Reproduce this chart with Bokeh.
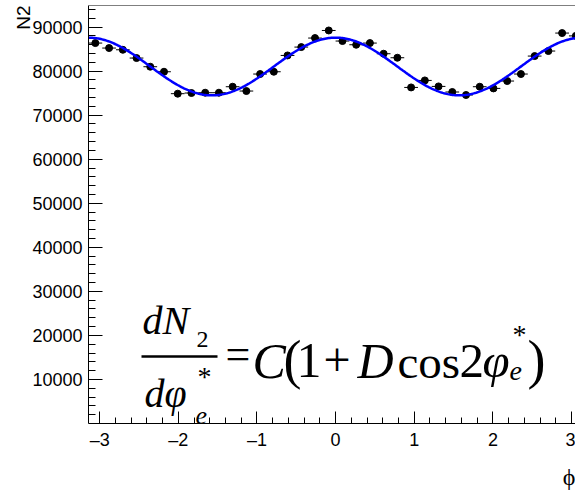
import numpy as np
from bokeh.plotting import figure
from bokeh.models import Range1d, FixedTicker, Span, Title
from bokeh.core.properties import value
from bokeh.embed import file_html
from bokeh.resources import INLINE

# Histogram of N2 versus phi, 36 bins over [-pi, pi]
n_bins = 36
counts = [86370, 85240, 84850, 82970, 81000, 79860, 74880, 75030, 75100,
          75100, 76460, 75480, 79340, 79860, 83560, 85460, 87510, 89230,
          86830, 85990, 86370, 83950, 83040, 76300, 77890, 76530, 75260,
          74580, 76460, 76080, 77750, 79340, 83420, 84560, 88640, 88000]
count_err = [294, 292, 291, 288, 285, 283, 274, 274, 274, 274, 277, 275,
             282, 283, 289, 292, 296, 299, 295, 293, 294, 290, 288, 276,
             279, 277, 274, 273, 277, 276, 279, 282, 289, 291, 298, 297]

# Fit parameters of C(1 + D cos 2phi)
fit_C = 81050.0
fit_D = 0.0808

x_ticks = [-3, -2, -1, 0, 1, 2, 3]
x_tick_labels = ["\u20133", "\u20132", "\u20131", "0", "1", "2", "3"]
y_ticks = [10000, 20000, 30000, 40000, 50000, 60000, 70000, 80000, 90000]
y_tick_labels = ["10000", "20000", "30000", "40000", "50000", "60000",
                 "70000", "80000", "90000"]

X_START, X_END = -np.pi, 3.05
Y_START, Y_END = 0.0, 94900.0
W, H = 575, 502
LEFT, BOTTOM, TOP = 88, 79, 5

edges = np.linspace(-np.pi, np.pi, n_bins + 1)
centers = 0.5 * (edges[:-1] + edges[1:])
counts_a = np.array(counts, dtype=float)
err_a = np.array(count_err, dtype=float)

p = figure(width=W, height=H, output_backend="svg", toolbar_location=None,
           x_range=Range1d(X_START, X_END), y_range=Range1d(Y_START, Y_END),
           min_border_left=LEFT, min_border_right=0, min_border_top=TOP,
           min_border_bottom=BOTTOM)
p.outline_line_color = None
p.background_fill_color = "white"
p.border_fill_color = "white"
p.xgrid.visible = False
p.ygrid.visible = False

# frame top edge
p.add_layout(Span(location=Y_END, dimension="width", line_color="black",
                  line_width=1))

minor_x = [round(v, 1) for v in np.arange(-3.0, 3.01, 0.2)
           if abs(v - round(v)) > 1e-6]
minor_y = [v for v in range(2000, 94001, 2000) if v % 10000 != 0]

xa = p.xaxis[0]
xa.ticker = FixedTicker(ticks=x_ticks, minor_ticks=minor_x)
xa.major_label_overrides = {t: s for t, s in zip(x_ticks, x_tick_labels)}
ya = p.yaxis[0]
ya.ticker = FixedTicker(ticks=y_ticks, minor_ticks=minor_y)
ya.major_label_overrides = {t: s for t, s in zip(y_ticks, y_tick_labels)}

for ax, big, small in ((xa, 12, 6), (ya, 14, 7)):
    ax.axis_line_color = "black"
    ax.axis_line_width = 1
    ax.major_tick_line_color = "black"
    ax.minor_tick_line_color = "black"
    ax.major_tick_in = big
    ax.major_tick_out = 0
    ax.minor_tick_in = small
    ax.minor_tick_out = 0
    ax.major_label_text_font = "Liberation Sans"
    ax.major_label_text_font_size = "18px"
    ax.major_label_text_color = "black"
    ax.major_label_standoff = 6

# axis titles
p.add_layout(Title(text="N2", align="right", text_font="Liberation Sans",
                   text_font_size="19px", text_font_style="normal",
                   text_color="black", standoff=-8), "left")
p.add_layout(Title(text="\u03d5", align="right", text_font="Liberation Serif",
                   text_font_size="24px", text_font_style="normal",
                   text_color="black", standoff=18), "below")

# histogram points with bin-width and statistical error bars
p.segment(x0=edges[:-1], x1=edges[1:], y0=counts_a, y1=counts_a,
          line_color="black", line_width=1)
p.segment(x0=centers, x1=centers, y0=counts_a - err_a, y1=counts_a + err_a,
          line_color="black", line_width=1)
p.scatter(centers, counts_a, size=7, color="black", marker="circle")

# fitted function
xf = np.linspace(-np.pi, np.pi, 400)
yf = fit_C * (1.0 + fit_D * np.cos(2.0 * xf))
p.line(xf, yf, line_color="#0000ff", line_width=2.5)

# pixel -> data helpers for the formula placement
sx = (W - LEFT) / (X_END - X_START)
sy = (H - BOTTOM - TOP) / (Y_END - Y_START)


def X(px):
    return X_START + (px - LEFT) / sx


def Y(py):
    return Y_START + ((H - BOTTOM) - py) / sy


def put(text, px, py, size, style="normal"):
    # py is the wanted baseline; the svg text box sits about 0.36 em low
    p.text(x=[X(px)], y=[Y(py - 0.36 * size)], text=[text],
           text_font=value("Liberation Serif"),
           text_font_size=value(f"{size}px"),
           text_font_style=style, text_color="black",
           text_baseline="alphabetic", text_align="left")


# dN2/dphi*_e = C(1 + D cos 2 phi*_e)
put("dN", 142, 334, 40, "italic")
put("2", 196, 348, 24)
p.segment(x0=[X(141)], x1=[X(217)], y0=[Y(356)], y1=[Y(356)],
          line_color="black", line_width=2.5)
put("d\u03c6", 144, 407, 40, "italic")
put("*", 197, 386, 28)
put("e", 195, 424, 26, "italic")
put("=", 225, 370, 44)
put("C", 252, 378, 50, "italic")
put("(", 283, 379, 54)
put("1", 296, 378, 50)
put("+", 323, 377, 48)
put("D", 357, 378, 50, "italic")
put("cos", 397, 378, 47)
put("2", 459, 378, 49)
put("\u03c6", 482, 378, 49, "italic")
put("e", 509, 381, 28, "italic")
put("*", 512, 344, 28)
put(")", 527, 379, 54)

open("out.html", "w").write(file_html(p, INLINE))
